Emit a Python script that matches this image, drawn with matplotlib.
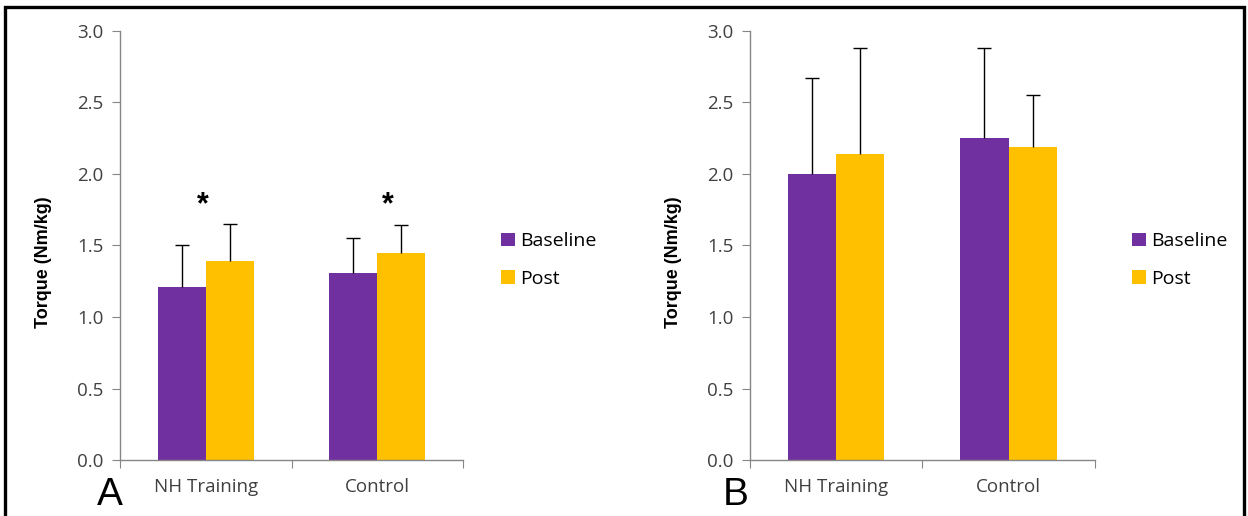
import matplotlib
matplotlib.use("Agg")
import matplotlib.pyplot as plt
from matplotlib.patches import Patch, Rectangle

# ----------------------------------------------------
# Data
# ----------------------------------------------------

groups = ["NH Training", "Control"]
series = ["Baseline", "Post"]

# panel A
a_baseline = [1.21, 1.31]
a_post = [1.39, 1.45]
a_baseline_sd = [0.29, 0.24]
a_post_sd = [0.26, 0.19]

# panel B
b_baseline = [2.00, 2.25]
b_post = [2.14, 2.19]
b_baseline_sd = [0.67, 0.63]
b_post_sd = [0.74, 0.36]

y_ticks = [0.0, 0.5, 1.0, 1.5, 2.0, 2.5, 3.0]

PURPLE = "#7030A0"
GOLD = "#FFC000"
AXIS_GRAY = "#868686"
TEXT_GRAY = "#404040"

TICK_FONT = "Open Sans"
LABEL_FONT = "Liberation Sans"

fig = plt.figure(figsize=(12.48, 5.16), dpi=100)


def upper_errorbar(ax, x, y, sd):
    """Error bars drawn upward only, with a single cap on top."""
    _, caps, _ = ax.errorbar(x, y, yerr=[[0] * len(y), sd],
                             fmt="none", ecolor="black", elinewidth=1,
                             capsize=5, capthick=1, zorder=3)
    caps[0].set_visible(False)


def draw_panel(ax, baseline, post, baseline_sd, post_sd):
    x = range(len(groups))
    width = 0.28

    xb = [i - width / 2 for i in x]
    xp = [i + width / 2 for i in x]

    ax.bar(xb, baseline, width, color=PURPLE, zorder=2)
    ax.bar(xp, post, width, color=GOLD, zorder=2)

    upper_errorbar(ax, xb, baseline, baseline_sd)
    upper_errorbar(ax, xp, post, post_sd)

    ax.set_xlim(-0.5, len(groups) - 0.5)
    ax.set_ylim(0, 3.0)

    ax.set_yticks(y_ticks)
    ax.set_yticklabels([f"{t:.1f}" for t in y_ticks],
                       fontsize=13.5, color=TEXT_GRAY, family=TICK_FONT)

    # category boundaries get the ticks, labels sit at the centres
    ax.set_xticks([i - 0.5 for i in range(len(groups) + 1)])
    ax.set_xticklabels([])
    ax.set_xticks(list(x), minor=True)
    ax.set_xticklabels(groups, minor=True, fontsize=13.5,
                       color=TEXT_GRAY, family=TICK_FONT)
    ax.tick_params(axis="x", which="minor", length=0, pad=13)
    ax.tick_params(axis="x", which="major", length=6, color=AXIS_GRAY)
    ax.tick_params(axis="y", length=6, color=AXIS_GRAY, pad=6)

    for side in ["top", "right"]:
        ax.spines[side].set_visible(False)
    for side in ["left", "bottom"]:
        ax.spines[side].set_color(AXIS_GRAY)
        ax.spines[side].set_linewidth(1)

    ax.set_ylabel("Torque (Nm/kg)", fontsize=13, fontweight="bold",
                  family=LABEL_FONT)
    ax.yaxis.set_label_coords(-0.198, 0.46)


# ----------------------------------------------------
# Panel A
# ----------------------------------------------------

ax_a = fig.add_axes([0.0962, 0.1085, 0.2748, 0.8315])
draw_panel(ax_a, a_baseline, a_post, a_baseline_sd, a_post_sd)

# significance markers
ax_a.text(-0.02, 1.78, "*", ha="center", va="center", fontsize=22,
          fontweight="bold", family=LABEL_FONT)
ax_a.text(1.06, 1.78, "*", ha="center", va="center", fontsize=22,
          fontweight="bold", family=LABEL_FONT)

# ----------------------------------------------------
# Panel B
# ----------------------------------------------------

ax_b = fig.add_axes([0.601, 0.1085, 0.2762, 0.8315])
draw_panel(ax_b, b_baseline, b_post, b_baseline_sd, b_post_sd)

# ----------------------------------------------------
# Legends
# ----------------------------------------------------

handles = [Patch(facecolor=PURPLE), Patch(facecolor=GOLD)]

for lx in [0.3875, 0.893]:
    fig.legend(handles, series, loc="center left",
               bbox_to_anchor=(lx, 0.496), frameon=False,
               handlelength=0.7, handleheight=0.7, handletextpad=0.3,
               labelspacing=1.0,
               prop={"family": TICK_FONT, "size": 14})

# ----------------------------------------------------
# Panel letters and border
# ----------------------------------------------------

fig.text(0.0775, 0.005, "A", fontsize=28, family=LABEL_FONT,
         ha="left", va="bottom")
fig.text(0.579, 0.005, "B", fontsize=28, family=LABEL_FONT,
         ha="left", va="bottom")

fig.patches.append(Rectangle((0.004, -0.2), 0.993, 1.186,
                             transform=fig.transFigure, fill=False,
                             edgecolor="black", linewidth=2.4))

fig.savefig("out.png", dpi=100)
